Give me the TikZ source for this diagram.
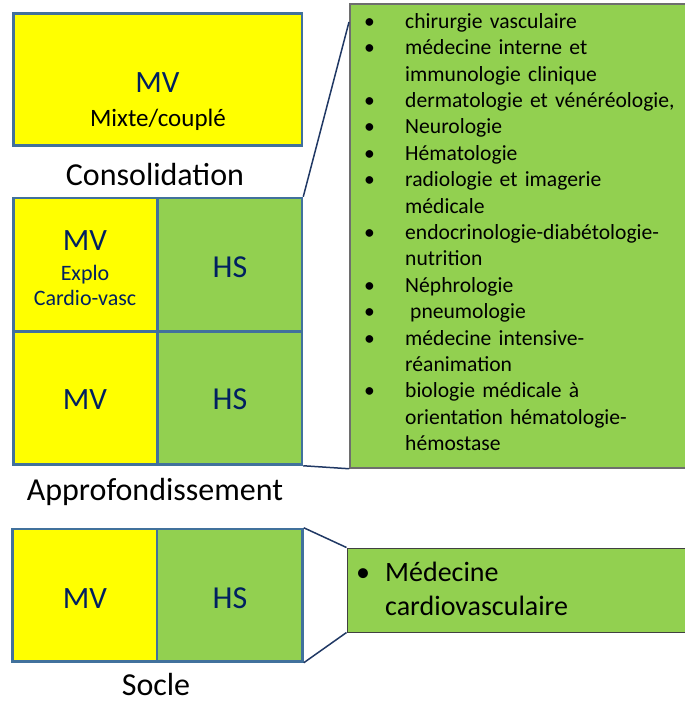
\documentclass[tikz,border=0pt]{standalone}
\usepackage{fontspec}
\setmainfont{Carlito}
\usepackage{tikz}
\definecolor{mvyellow}{HTML}{FFFF00}
\definecolor{hsgreen}{HTML}{92D050}
\definecolor{cellline}{HTML}{41719C}
\definecolor{navytxt}{HTML}{002060}
\definecolor{linknavy}{HTML}{203864}
\definecolor{listgray}{HTML}{6E6E6E}
\definecolor{cvgray}{HTML}{404040}
\tikzset{
	cell/.style 2 args={rectangle,draw=cellline,line width=2.5pt,fill=#1,inner sep=0pt,name=#2},
	word/.style 2 args={anchor=base,inner sep=0pt,font=\fontsize{#1}{#1}\selectfont,name=#2},
	link/.style={draw=linknavy,line width=1.5pt}
}
\newcommand{\itm}[2][41pt]{\hangindent=#1\hangafter=1\noindent\makebox[#1][l]{\textbullet}#2\par}

\begin{document}
\begin{tikzpicture}[x=1pt,y=-1pt]
	\useasboundingbox (0,0) rectangle (685,702);
	% consolidation
	\node [cell={mvyellow}{mvtop},minimum width=288.5pt,minimum height=132pt] at (157.75,79.5) {};
	\node [word={31}{mvtoptxt},text=navytxt] at (157.5,92) {MV};
	\node [word={25}{mixtetxt}] at (158,126.5) {Mixte/couplé};
	\node [word={32}{consol}] at (155,185) {Consolidation};

	% approfondissement
	\node [cell={mvyellow}{mvexp},minimum width=144pt,minimum height=133.5pt] at (85.5,264.75) {};
	\node [cell={hsgreen}{hsexp},minimum width=144.5pt,minimum height=133.5pt] at (229.75,264.75) {};
	\node [cell={mvyellow}{mvapp},minimum width=144pt,minimum height=133pt] at (85.5,398) {};
	\node [cell={hsgreen}{hsapp},minimum width=144.5pt,minimum height=133pt] at (229.75,398) {};
	\node [word={31}{mvexptxt},text=navytxt] at (85,250) {MV};
	\node [word={22}{explotxt},text=navytxt] at (85,280) {Explo};
	\node [word={22}{cardiotxt},text=navytxt] at (85,305) {Cardio-vasc};
	\node [word={32}{hsexptxt},text=navytxt] at (230,277) {HS};
	\node [word={31}{mvapptxt},text=navytxt] at (85,409) {MV};
	\node [word={32}{hsapptxt},text=navytxt] at (230,409) {HS};
	\node [word={32}{approf}] at (155,500) {Approfondissement};

	% socle
	\node [cell={mvyellow}{mvsoc},minimum width=144.5pt,minimum height=132.5pt] at (84.75,595.25) {};
	\node [cell={hsgreen}{hssoc},minimum width=145.5pt,minimum height=132.5pt] at (229.75,595.25) {};
	\node [word={31}{mvsoctxt},text=navytxt] at (85,608) {MV};
	\node [word={32}{hssoctxt},text=navytxt] at (230,608) {HS};
	\node [word={32}{socle}] at (156,695) {Socle};

	% specialites
	\node [rectangle,draw=listgray,line width=1.5pt,fill=hsgreen,minimum width=345pt,minimum height=464pt] (list) at (522.5,236) {};
	\node [anchor=north west,inner sep=0pt,text width=320pt,align=left,font=\fontsize{21.6}{26.4}\selectfont] (listtxt) at (364,10) {%
		\setlength{\parskip}{0pt}%
		\itm{\rule{0pt}{18pt}chirurgie vasculaire}%
		\itm{médecine interne et\newline immunologie clinique}
		\itm{dermatologie et vénéréologie,}
		\itm{Neurologie}
		\itm{Hématologie}
		\itm{radiologie et imagerie\newline médicale}
		\itm{endocrinologie-diabétologie-\newline nutrition}
		\itm{Néphrologie}
		\itm{\hspace{5pt}pneumologie}
		\itm{médecine intensive-\newline réanimation}
		\itm{biologie médicale à\newline orientation hématologie-\newline hémostase}};
	\node [rectangle,draw=cvgray,line width=1pt,fill=hsgreen,minimum width=348pt,minimum height=84pt] (cvbox) at (521,590) {};
	\node [anchor=north west,inner sep=0pt,text width=300pt,align=left,font=\fontsize{28}{33.3}\selectfont] (cvtxt) at (356,559.7) {%
		\setlength{\parskip}{0pt}%
		\itm[29pt]{\rule{0pt}{22pt}Médecine\newline cardiovasculaire}};

	\coordinate (listtop) at (349,22);
	\draw [link] (hsexp.north east) -- (listtop);
	\draw [link] (hsapp.south east) -- (list.south west);
	\draw [link] (hssoc.north east) -- (cvbox.north west);
	\draw [link] (hssoc.south east) -- (cvbox.south west);
\end{tikzpicture}
\end{document}
